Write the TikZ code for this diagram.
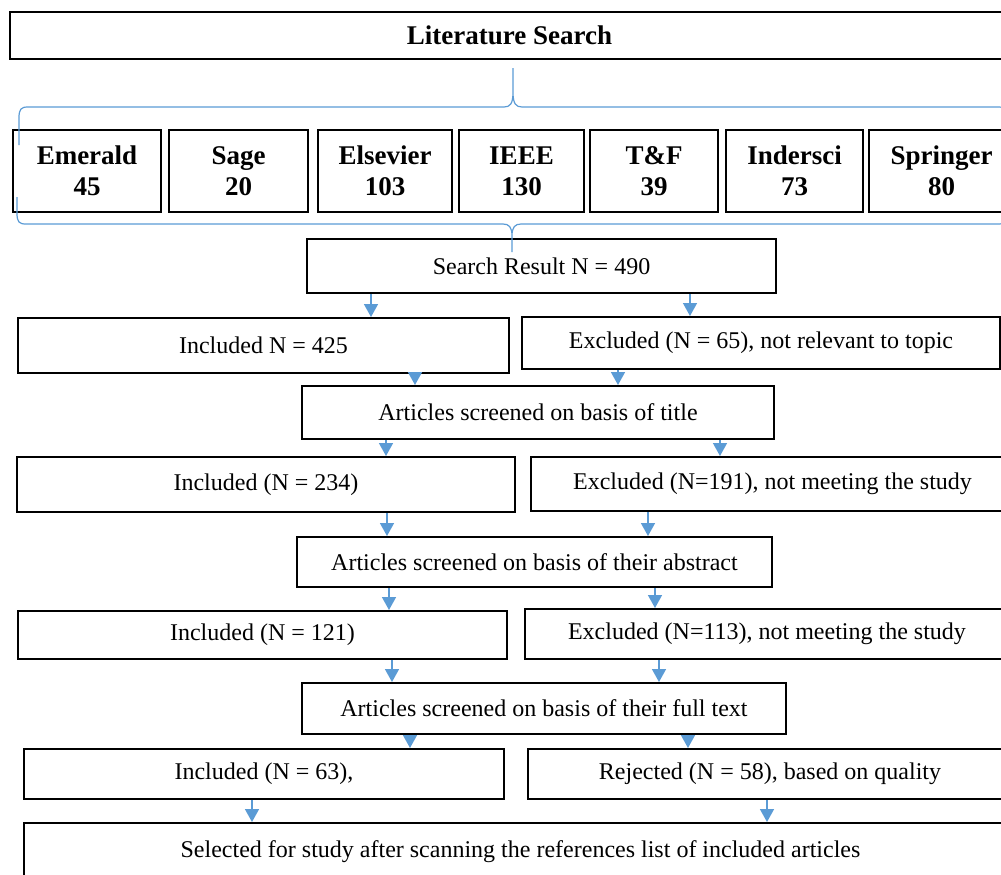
\documentclass[tikz,border=0pt]{standalone}
\usepackage{fontspec}
\setmainfont{Liberation Serif}
\usetikzlibrary{arrows.meta}
\definecolor{wordblue}{HTML}{5B9BD5}

\begin{document}
\begin{tikzpicture}
	[x=0.5pt, y=-0.5pt, line width=1pt,
	box/.style = {draw, rectangle, inner sep=2pt, font=\fontsize{12}{14}\selectfont},
	src/.style = {draw, rectangle, align=center, minimum height=41pt, font=\fontsize{13.5}{15.5}\selectfont\bfseries},
	arr/.style = {draw=wordblue, line width=0.75pt, -{Triangle[length=6.5pt, width=7pt]}},
	brc/.style = {draw=wordblue, line width=0.6pt}]
	\clip (0,0) rectangle (1001,874);
	\node[box, minimum width=499.5pt, minimum height=23.5pt, font=\fontsize{13.5}{15.5}\selectfont\bfseries] (lit) at (509.5,35.5) {Literature Search};
	\node[src, minimum width=74pt] (emerald) at (87,171) {Emerald\\45};
	\node[src, minimum width=69.5pt] (sage) at (238.5,171) {Sage\\20};
	\node[src, minimum width=67pt] (elsevier) at (385,171) {Elsevier\\103};
	\node[src, minimum width=62.5pt] (ieee) at (521.5,171) {IEEE\\130};
	\node[src, minimum width=64pt] (tf) at (654,171) {T\&F\\39};
	\node[src, minimum width=68.5pt] (indersci) at (794.5,171) {Indersci\\73};
	\node[src, minimum width=72.5pt] (springer) at (941.5,171) {Springer\\80};
	\node[box, minimum width=234.5pt, minimum height=27pt] (search) at (541.5,266) {Search Result N = 490};
	\node[box, minimum width=245.5pt, minimum height=27.5pt] (inc1) at (263.5,345.5) {Included N = 425};
	\node[box, minimum width=239pt, minimum height=26pt] (exc1) at (761,343) {Excluded (N = 65), not relevant to topic};
	\node[box, minimum width=236pt, minimum height=26.5pt] (title) at (538,412.5) {Articles screened on basis of title};
	\node[box, minimum width=249pt, minimum height=27.5pt] (inc2) at (266,484.5) {Included (N = 234)};
	\node[box, minimum width=241.5pt, minimum height=27pt] (exc2) at (772.5,484) {Excluded (N=191), not meeting the study};
	\node[box, minimum width=237.5pt, minimum height=25pt] (abstract) at (534.5,562) {Articles screened on basis of their abstract};
	\node[box, minimum width=244.5pt, minimum height=24pt] (inc3) at (262.5,635) {Included (N = 121)};
	\node[box, minimum width=242pt, minimum height=25pt] (exc3) at (767,634) {Excluded (N=113), not meeting the study};
	\node[box, minimum width=242pt, minimum height=25.5pt] (fulltext) at (544,708.5) {Articles screened on basis of their full text};
	\node[box, minimum width=240pt, minimum height=25pt] (inc4) at (264,774) {Included (N = 63),};
	\node[box, minimum width=242pt, minimum height=25pt] (rej) at (770,774) {Rejected (N = 58), based on quality};
	\node[box, minimum width=496.5pt, minimum height=29pt] (sel) at (520.5,852) {Selected for study after scanning the references list of included articles};
	\draw[arr] (371,0 |- search.south) -- (371,0 |- inc1.north);
	\draw[arr] (690,0 |- search.south) -- (690,0 |- exc1.north);
	\draw[arr] (415,0 |- inc1.south) -- (415,0 |- title.north);
	\draw[arr] (618,0 |- exc1.south) -- (618,0 |- title.north);
	\draw[arr] (386,0 |- title.south) -- (386,0 |- inc2.north);
	\draw[arr] (720,0 |- title.south) -- (720,0 |- exc2.north);
	\draw[arr] (387,0 |- inc2.south) -- (387,0 |- abstract.north);
	\draw[arr] (648,0 |- exc2.south) -- (648,0 |- abstract.north);
	\draw[arr] (389,0 |- abstract.south) -- (389,0 |- inc3.north);
	\draw[arr] (655,0 |- abstract.south) -- (655,0 |- exc3.north);
	\draw[arr] (392,0 |- inc3.south) -- (392,0 |- fulltext.north);
	\draw[arr] (659,0 |- exc3.south) -- (659,0 |- fulltext.north);
	\draw[arr] (410,0 |- fulltext.south) -- (410,0 |- inc4.north);
	\draw[arr] (688,0 |- fulltext.south) -- (688,0 |- rej.north);
	\draw[arr] (252,0 |- inc4.south) -- (252,0 |- sel.north);
	\draw[arr] (767,0 |- rej.south) -- (767,0 |- sel.north);
	\draw[brc] (19,145) -- (19,118) .. controls (19,109) and (21,107) .. (28,107) -- (504,107)
		.. controls (510,107) and (513,104) .. (513,92) -- (513,68) -- (513,92)
		.. controls (513,104) and (516,107) .. (522,107) -- (998,107)
		.. controls (1005,107) and (1007,109) .. (1007,118) -- (1007,145);
	\draw[brc] (17,197) -- (17,213) .. controls (17,222) and (19,224) .. (26,224) -- (503,224)
		.. controls (509,224) and (512,227) .. (512,236) -- (512,252) -- (512,236)
		.. controls (512,227) and (515,224) .. (521,224) -- (998,224)
		.. controls (1005,224) and (1007,222) .. (1007,213) -- (1007,197);
\end{tikzpicture}
\end{document}
